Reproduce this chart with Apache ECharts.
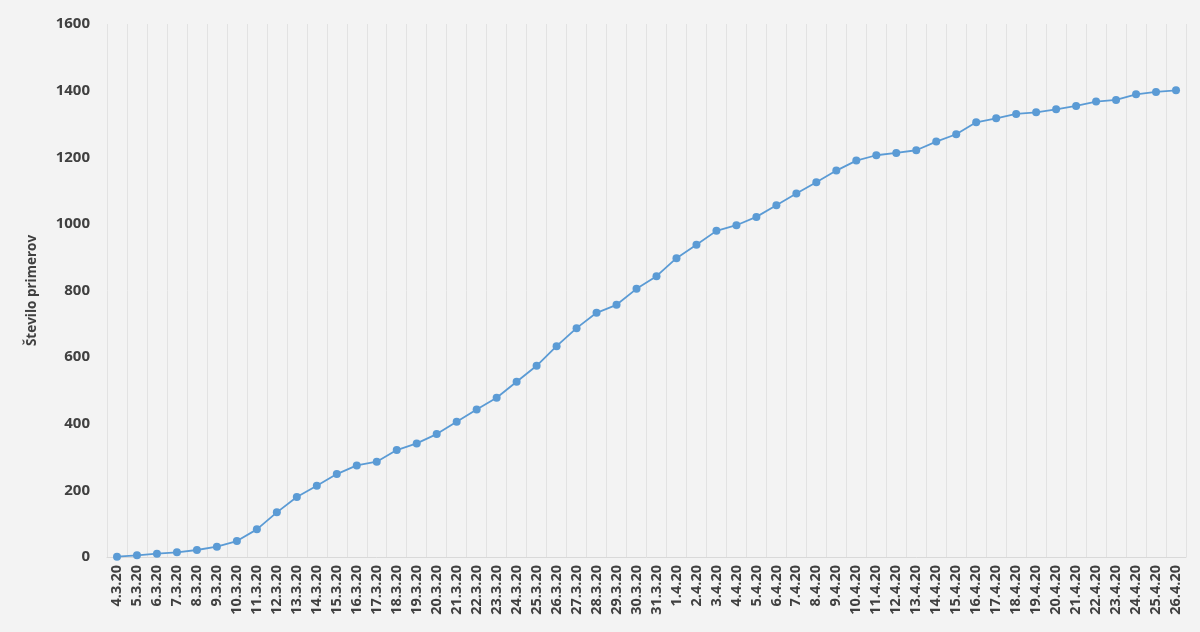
<!DOCTYPE html>
<html><head><meta charset="utf-8">
<script src="https://cdn.jsdelivr.net/npm/echarts@6/dist/echarts.min.js"></script>
<style>html,body{margin:0;padding:0;background:#f3f3f3}#c{width:1200px;height:632px}</style>
</head><body><div id="c"></div>
<script>
const categories = ["4.3.20","5.3.20","6.3.20","7.3.20","8.3.20","9.3.20","10.3.20","11.3.20","12.3.20","13.3.20","14.3.20","15.3.20","16.3.20","17.3.20","18.3.20","19.3.20","20.3.20","21.3.20","22.3.20","23.3.20","24.3.20","25.3.20","26.3.20","27.3.20","28.3.20","29.3.20","30.3.20","31.3.20","1.4.20","2.4.20","3.4.20","4.4.20","5.4.20","6.4.20","7.4.20","8.4.20","9.4.20","10.4.20","11.4.20","12.4.20","13.4.20","14.4.20","15.4.20","16.4.20","17.4.20","18.4.20","19.4.20","20.4.20","21.4.20","22.4.20","23.4.20","24.4.20","25.4.20","26.4.20"];
const cases = [1,5,10,14,21,31,48,83,134,180,214,249,275,286,321,341,369,406,443,478,526,574,633,687,733,757,805,843,897,937,979,996,1021,1056,1091,1125,1160,1190,1206,1213,1221,1247,1269,1305,1317,1330,1335,1344,1354,1367,1372,1389,1396,1401];
const yTicks = {min:0, max:1600, interval:200};
const yName = "Število primerov";

const chart = echarts.init(document.getElementById('c'), null, {renderer:'canvas'});
const font = '"Open Sans", "DejaVu Sans", sans-serif';
chart.setOption({
  backgroundColor:'#f3f3f3',
  animation:false,
  grid:{left:107, right:14, top:24, bottom:75, containLabel:false},
  xAxis:{
    type:'category', data:categories, boundaryGap:true,
    axisLine:{show:true, lineStyle:{color:'#d9d9d9', width:1}},
    axisTick:{show:false},
    splitLine:{show:true, interval:0, lineStyle:{color:'#e2e2e2', width:1}},
    axisLabel:{interval:0, rotate:90, color:'#404040', fontWeight:'bold', fontSize:14.5, fontFamily:font, margin:8}
  },
  yAxis:{
    type:'value', min:yTicks.min, max:yTicks.max, interval:yTicks.interval,
    name:yName, nameLocation:'middle', nameGap:68, nameRotate:90,
    nameTextStyle:{color:'#404040', fontWeight:'bold', fontSize:13.5, fontFamily:font},
    axisLine:{show:false}, axisTick:{show:false},
    splitLine:{show:false},
    axisLabel:{color:'#404040', fontWeight:'bold', fontSize:15, fontFamily:font, margin:17, formatter:v=>String(v)}
  },
  series:[{
    type:'line', data:cases,
    symbol:'circle', symbolSize:8, showAllSymbol:true,
    lineStyle:{color:'#5b9bd5', width:1.8},
    itemStyle:{color:'#5b9bd5'}
  }]
});
</script></body></html>
